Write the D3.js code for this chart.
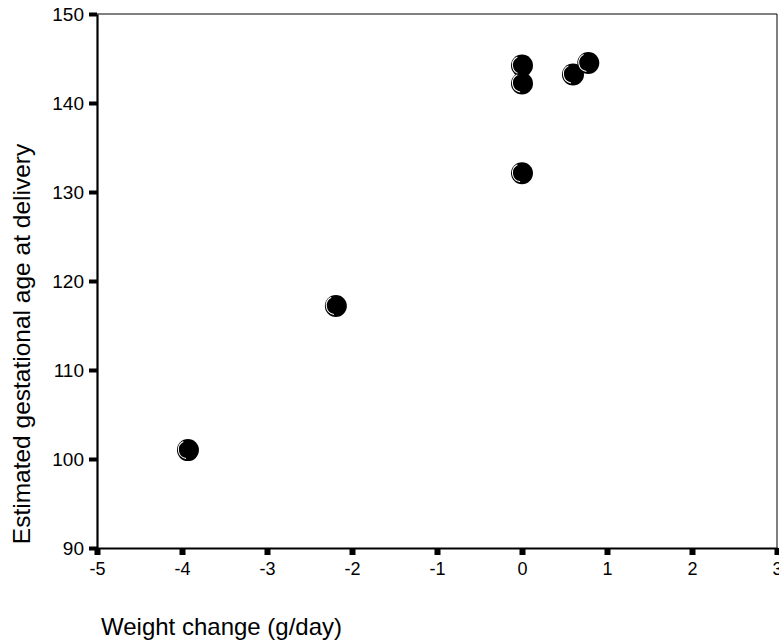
<!DOCTYPE html>
<html lang="en">
<head>
<meta charset="UTF-8">
<title>scatter</title>
<script src="https://d3js.org/d3.v7.min.js"></script>
<style>
  body { margin: 0; background: #fff; }
  text { font-family: "Liberation Sans", Arial, sans-serif; }
</style>
</head>
<body>
<script>
// data
var weightChange = [-3.93, -2.19, 0.0, 0.0, 0.0, 0.6, 0.78];
var gestAge = [101.0, 117.2, 144.2, 142.2, 132.1, 143.2, 144.5];
var xTicks = [-5, -4, -3, -2, -1, 0, 1, 2, 3];
var yTicks = [90, 100, 110, 120, 130, 140, 150];

var w = 779, h = 642;
var mLeft = 97, mRight = 777, mTop = 14, mBottom = 548;

var svg = d3.select("body").append("svg").attr("width", w).attr("height", h);

var x = d3.scaleLinear().domain([-5, 3]).range([mLeft, mRight]);
var y = d3.scaleLinear().domain([90, 150]).range([mBottom, mTop]);

// thin top / right frame
svg.append("line").attr("x1", mLeft).attr("x2", mRight).attr("y1", mTop).attr("y2", mTop)
  .attr("stroke", "#000").attr("stroke-width", 1);
svg.append("line").attr("x1", mRight).attr("x2", mRight).attr("y1", mTop).attr("y2", mBottom)
  .attr("stroke", "#000").attr("stroke-width", 1);

// x axis
var xAxis = svg.append("g").attr("transform", "translate(0," + mBottom + ")")
  .call(d3.axisBottom(x).tickValues(xTicks).tickFormat(function (d) { return String(d); })
    .tickSize(0).tickPadding(12));
xAxis.select(".domain").attr("stroke-width", 2.2);
xAxis.selectAll(".tick").append("rect")
  .attr("x", -3).attr("y", 0).attr("width", 6).attr("height", 7).attr("fill", "#000");
xAxis.selectAll("text").attr("font-size", 18).attr("fill", "#000")
  .attr("y", 27).attr("dy", null)
  .attr("font-family", "Liberation Sans, Arial, sans-serif");

// y axis
var yAxis = svg.append("g").attr("transform", "translate(" + mLeft + ",0)")
  .call(d3.axisLeft(y).tickValues(yTicks).tickFormat(function (d) { return String(d); })
    .tickSize(0).tickPadding(13));
yAxis.select(".domain").attr("stroke-width", 2.2);
yAxis.selectAll(".tick").append("rect")
  .attr("x", -8).attr("y", -2).attr("width", 8).attr("height", 4).attr("fill", "#000");
yAxis.selectAll("text").attr("font-size", 19).attr("fill", "#000")
  .attr("font-family", "Liberation Sans, Arial, sans-serif");

// points
var pts = svg.append("g").selectAll("g")
  .data(weightChange.map(function (d, i) { return [d, gestAge[i]]; }))
  .enter().append("g")
  .attr("transform", function (d) { return "translate(" + x(d[0]) + "," + y(d[1]) + ")"; });

pts.append("circle").attr("r", 11).attr("fill", "#000");
var arc = d3.arc().innerRadius(8.6).outerRadius(9.6)
  .startAngle(-Math.PI * 0.95).endAngle(-Math.PI * 0.15);
pts.append("path").attr("d", arc).attr("fill", "#fff").attr("transform", "translate(-0.5,-0.5)");

// titles
svg.append("text")
  .attr("transform", "translate(30,344) rotate(-90)")
  .attr("text-anchor", "middle").attr("font-size", 24.5).attr("fill", "#000")
  .text("Estimated gestational age at delivery");

svg.append("text")
  .attr("x", 101).attr("y", 635)
  .attr("font-size", 24).attr("fill", "#000")
  .text("Weight change (g/day)");
</script>
</body>
</html>
